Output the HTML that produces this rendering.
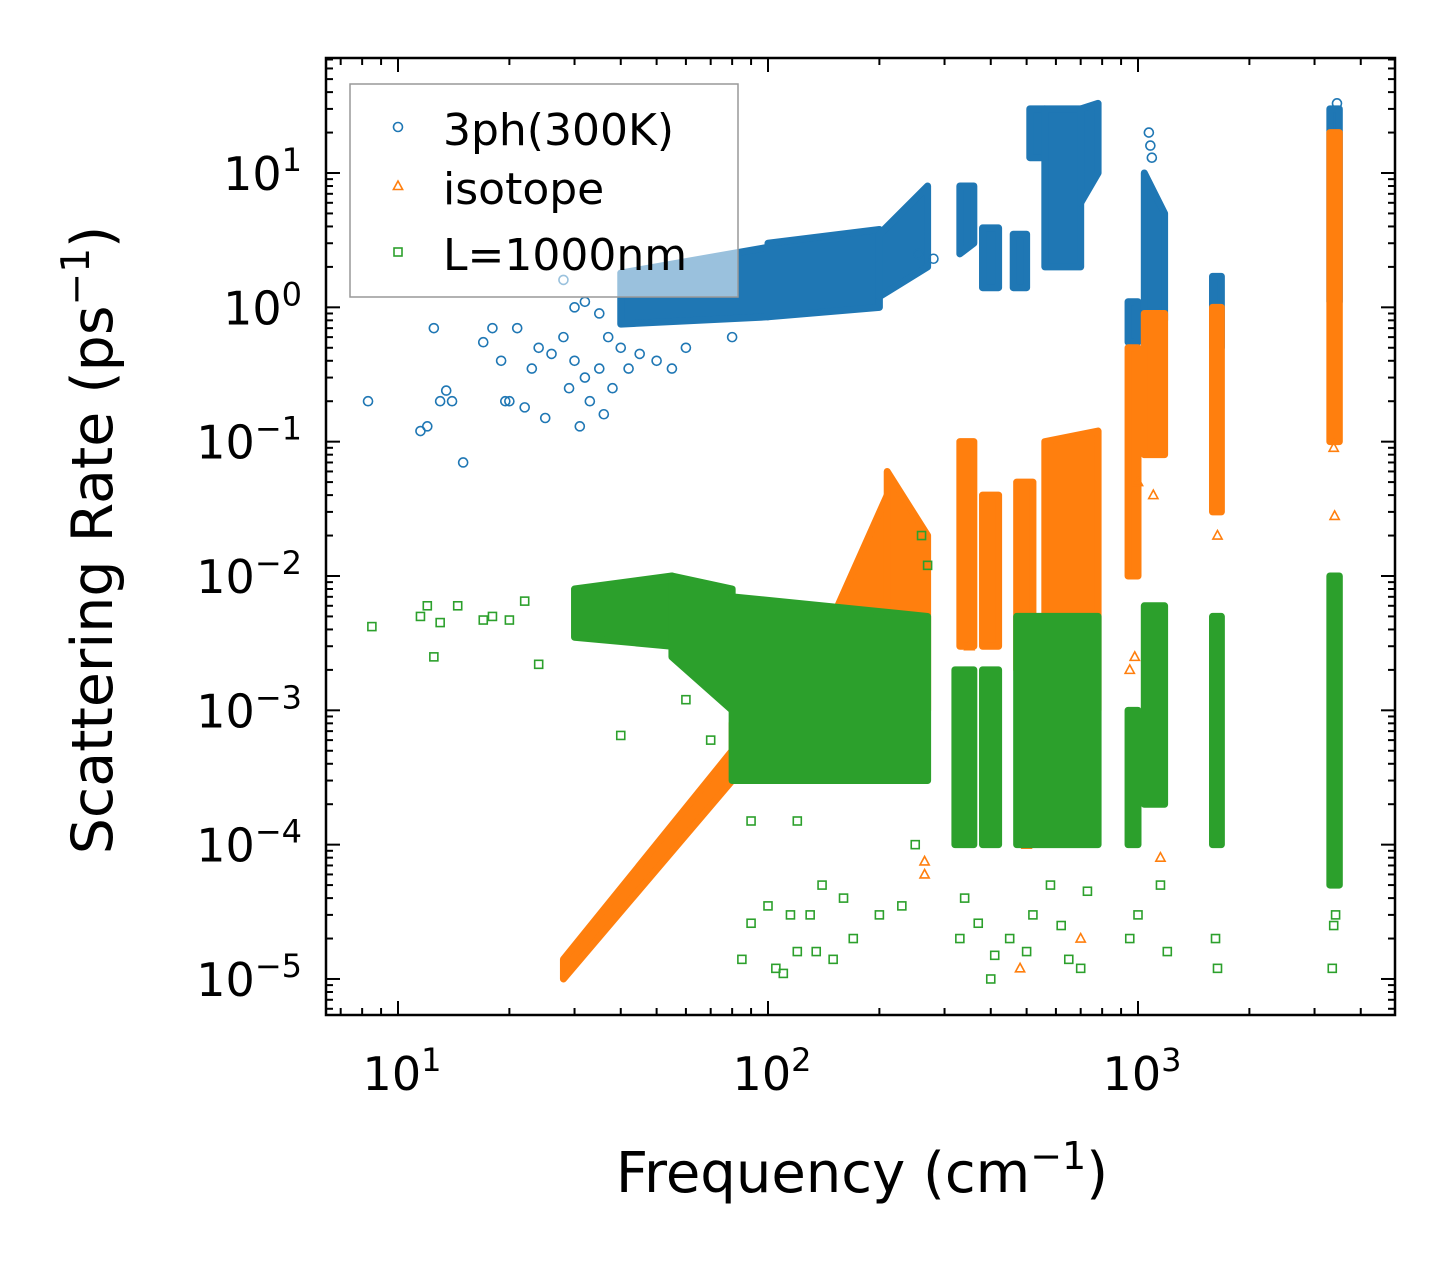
<!DOCTYPE html>
<html><head><meta charset="utf-8"><style>
html,body{margin:0;padding:0;background:#fff;}
svg{display:block;font-family:"DejaVu Sans","Liberation Sans",sans-serif;}
</style></head><body>
<svg id="chart" width="1455" height="1265" viewBox="0 0 1455 1265" xmlns="http://www.w3.org/2000/svg">
<rect width="1455" height="1265" fill="#fff"/>
<g id="marks"></g>
<g id="axes"></g>
</svg>
<script>
// ---- data (frequency cm^-1, rate ps^-1) ----
// dense bands: start freq, end freq, low/high at start, low/high at end
const blueBandFreqLo=[40,100,200,330,380,460,510,560,700,940,1040,1590,3300];
const blueBandFreqHi=[100,200,270,360,420,500,560,700,780,1000,1180,1680,3500];
const blueBandLowStart=[0.75,0.85,1.2,2.5,1.4,1.4,13,2,6,0.55,0.6,0.5,1.1];
const blueBandHighStart=[1.8,3,3.5,8,3.9,3.5,30,30,30,1.1,10,1.7,30];
const blueBandLowEnd=[0.85,1.0,2,3,1.4,1.4,13,2,10,0.55,0.8,0.5,1.1];
const blueBandHighEnd=[2.8,3.8,8,8,3.9,3.5,30,30,33,1.1,5,1.7,30];
const blueFreq=[8.3,11.5,12,12.5,13,13.5,14,15,17,18,19,19.5,20,21,22,23,24,25,26,28,29,30,31,32,33,35,36,37,38,40,42,45,50,55,60,80,28,30,32,35,1070,1080,1090,3450,255,280];
const blueRate=[0.2,0.12,0.13,0.7,0.2,0.24,0.2,0.07,0.55,0.7,0.4,0.2,0.2,0.7,0.18,0.35,0.5,0.15,0.45,0.6,0.25,0.4,0.13,0.3,0.2,0.35,0.16,0.6,0.25,0.5,0.35,0.45,0.4,0.35,0.5,0.6,1.6,1.0,1.1,0.9,20,16,13,33,2.5,2.3];

const orangeBandFreqLo=[28,80,150,210,330,380,470,560,940,1040,1590,3300];
const orangeBandFreqHi=[80,150,210,270,360,420,520,780,1000,1180,1680,3500];
const orangeBandLowStart=[1e-5,3e-4,1e-3,1.5e-3,3e-3,3e-3,2e-3,1e-3,0.01,0.08,0.03,0.1];
const orangeBandHighStart=[1.4e-5,8e-4,5e-3,6e-2,0.1,0.04,0.05,0.1,0.5,0.9,1.0,20];
const orangeBandLowEnd=[3e-4,1e-3,2e-3,1e-3,3e-3,3e-3,2e-3,1e-3,0.01,0.08,0.03,0.1];
const orangeBandHighEnd=[5e-4,5e-3,4e-2,2e-2,0.1,0.04,0.05,0.12,0.5,0.9,1.0,20];
const orangeFreq=[350,500,700,950,1150,1100,1000,265,265,1640,3400,3380,480,980];
const orangeRate=[0.003,1e-4,2e-5,0.002,8e-5,0.04,0.05,6e-5,7.5e-5,0.02,0.028,0.09,1.2e-5,0.0025];

const greenBandFreqLo=[30,55,80,320,380,470,940,1040,1590,3300];
const greenBandFreqHi=[55,80,270,360,420,780,1000,1180,1680,3500];
const greenBandLowStart=[3.5e-3,2.5e-3,3e-4,1e-4,1e-4,1e-4,1e-4,2e-4,1e-4,5e-5];
const greenBandHighStart=[8e-3,1e-2,7e-3,2e-3,2e-3,5e-3,1e-3,6e-3,5e-3,1e-2];
const greenBandLowEnd=[3e-3,1e-3,3e-4,1e-4,1e-4,1e-4,1e-4,2e-4,1e-4,5e-5];
const greenBandHighEnd=[1e-2,8e-3,5e-3,2e-3,2e-3,5e-3,1e-3,6e-3,5e-3,1e-2];
const greenFreq=[8.5,11.5,12,12.5,13,14.5,17,18,20,22,24,40,70,85,90,100,105,110,115,120,130,135,150,160,140,170,200,230,250,260,270,330,340,370,400,410,450,500,520,580,620,650,700,730,950,1000,1200,1150,1640,1620,3350,3380,3420,60,75,90,120];
const greenRate=[0.0042,0.005,0.006,0.0025,0.0045,0.006,0.0047,0.005,0.0047,0.0065,0.0022,0.00065,0.0006,1.4e-5,2.6e-5,3.5e-5,1.2e-5,1.1e-5,3e-5,1.6e-5,3e-5,1.6e-5,1.4e-5,4e-5,5e-5,2e-5,3e-5,3.5e-5,1e-4,0.02,0.012,2e-5,4e-5,2.6e-5,1e-5,1.5e-5,2e-5,1.6e-5,3e-5,5e-5,2.5e-5,1.4e-5,1.2e-5,4.5e-5,2e-5,3e-5,1.6e-5,5e-5,1.2e-5,2e-5,1.2e-5,2.5e-5,3e-5,0.0012,0.0013,1.5e-4,1.5e-4];

const xTickExp=[1,2,3];
const yTickExp=[1,0,-1,-2,-3,-4,-5];

// ---- axes functions ----
const L=326,R=1395,T=58,B=1015;
function X(f){return 398+370*Math.log10(f/10);}
function Y(v){return 173+134.33*(1-Math.log10(v));}
const NS="http://www.w3.org/2000/svg";
function mk(tag,attrs,parent){const e=document.createElementNS(NS,tag);for(const k in attrs)e.setAttribute(k,attrs[k]);parent.appendChild(e);return e;}
const marks=document.getElementById('marks');
const axes=document.getElementById('axes');
mk('clipPath',{id:'clip'},marks);
mk('rect',{x:L,y:T,width:R-L,height:B-T},document.getElementById('clip'));
const plot=mk('g',{'clip-path':'url(#clip)'},marks);
const colors=['#1f77b4','#ff7f0e','#2ca02c'];

function bands(lo,hi,l0,h0,l1,h1,color,name){
  for(let i=0;i<lo.length;i++){
    const x1=X(lo[i]),x2=X(hi[i]);
    const pts=`${x1},${Y(h0[i])} ${x2},${Y(h1[i])} ${x2},${Y(l1[i])} ${x1},${Y(l0[i])}`;
    const r=mk('polygon',{points:pts,fill:color,stroke:color,'stroke-width':7,'stroke-linejoin':'round'},plot);
    
    
  }
}
function points(fs,vs,color,shape,name){
  for(let i=0;i<fs.length;i++){
    const x=X(fs[i]),y=Y(vs[i]);let e;
    if(shape==='o')e=mk('circle',{cx:x,cy:y,r:4.5,fill:'none',stroke:color,'stroke-width':1.6},plot);
    else if(shape==='^')e=mk('polygon',{points:`${x},${y-5} ${x-4.6},${y+3.5} ${x+4.6},${y+3.5}`,fill:'none',stroke:color,'stroke-width':1.6},plot);
    else e=mk('rect',{x:x-4,y:y-4,width:8,height:8,fill:'none',stroke:color,'stroke-width':1.6},plot);
    
    
  }
}
bands(blueBandFreqLo,blueBandFreqHi,blueBandLowStart,blueBandHighStart,blueBandLowEnd,blueBandHighEnd,colors[0],'3ph');
points(blueFreq,blueRate,colors[0],'o','3ph');
bands(orangeBandFreqLo,orangeBandFreqHi,orangeBandLowStart,orangeBandHighStart,orangeBandLowEnd,orangeBandHighEnd,colors[1],'isotope');
points(orangeFreq,orangeRate,colors[1],'^','isotope');
bands(greenBandFreqLo,greenBandFreqHi,greenBandLowStart,greenBandHighStart,greenBandLowEnd,greenBandHighEnd,colors[2],'boundary');
points(greenFreq,greenRate,colors[2],'s','boundary');

const fr=mk('rect',{x:L,y:T,width:R-L,height:B-T,fill:'none',stroke:'#000','stroke-width':2.5},axes);



for(let d=0;d<=3;d++){for(let m=1;m<=9;m++){
  const f=m*Math.pow(10,d);const x=X(f);if(x<L||x>R)continue;
  const len=m===1?14:7;
  mk('line',{x1:x,y1:B,x2:x,y2:B-len,stroke:'#000','stroke-width':2},axes);
  mk('line',{x1:x,y1:T,x2:x,y2:T+len,stroke:'#000','stroke-width':2},axes);
}}
for(let e=-6;e<=1;e++){for(let m=1;m<=9;m++){
  const v=m*Math.pow(10,e);const y=Y(v);if(y<T||y>B)continue;
  const len=m===1?14:7;
  mk('line',{x1:L,y1:y,x2:L+len,y2:y,stroke:'#000','stroke-width':2},axes);
  mk('line',{x1:R,y1:y,x2:R-len,y2:y,stroke:'#000','stroke-width':2},axes);
}}
function powLabel(x,y,exp,anchor,name){
  const t=mk('text',{x:x,y:y,'font-size':46,'text-anchor':anchor,fill:'#000'},axes);
  
  
  const a=document.createElementNS(NS,'tspan');a.textContent='10';t.appendChild(a);
  const b=document.createElementNS(NS,'tspan');b.setAttribute('dy','-19');b.setAttribute('font-size','32');
  b.textContent=(exp<0?'\u2212'+(-exp):String(exp));t.appendChild(b);
}
xTickExp.forEach(e=>powLabel(X(Math.pow(10,e))+4,1090,e,'middle','x-tick-label'));
yTickExp.forEach(e=>powLabel(302,Y(Math.pow(10,e))+17,e,'end','y-tick-label'));

const xt=mk('text',{x:862,y:1192,'font-size':56,'text-anchor':'middle',fill:'#000'},axes);

xt.innerHTML='Frequency (cm<tspan dy="-23" font-size="38">\u22121</tspan><tspan dy="23">)</tspan>';
const yt=mk('text',{x:0,y:0,'font-size':57,'text-anchor':'middle',fill:'#000',transform:'translate(112,540) rotate(-90)'},axes);

yt.innerHTML='Scattering Rate (ps<tspan dy="-23" font-size="39">\u22121</tspan><tspan dy="23">)</tspan>';

const lg=mk('g',{},axes);

mk('rect',{x:350,y:84,width:388,height:213,fill:'#fff','fill-opacity':0.55,stroke:'#999','stroke-width':1.5},lg);
const legLabels=['3ph(300K)','isotope','L=1000nm'];
const legY=[145,204,270];
legLabels.forEach((s,i)=>{
  const y=legY[i]-18,x=398;
  let e;
  if(i===0)e=mk('circle',{cx:x,cy:y,r:4.5,fill:'none',stroke:colors[0],'stroke-width':1.6},lg);
  else if(i===1)e=mk('polygon',{points:`${x},${y-5} ${x-4.6},${y+3.5} ${x+4.6},${y+3.5}`,fill:'none',stroke:colors[1],'stroke-width':1.6},lg);
  else e=mk('rect',{x:x-4,y:y-4,width:8,height:8,fill:'none',stroke:colors[2],'stroke-width':1.6},lg);
  
  
  const t=mk('text',{x:443,y:legY[i],'font-size':44,fill:'#000'},lg);
  t.textContent=s;
  
  
});
</script>
</body></html>
